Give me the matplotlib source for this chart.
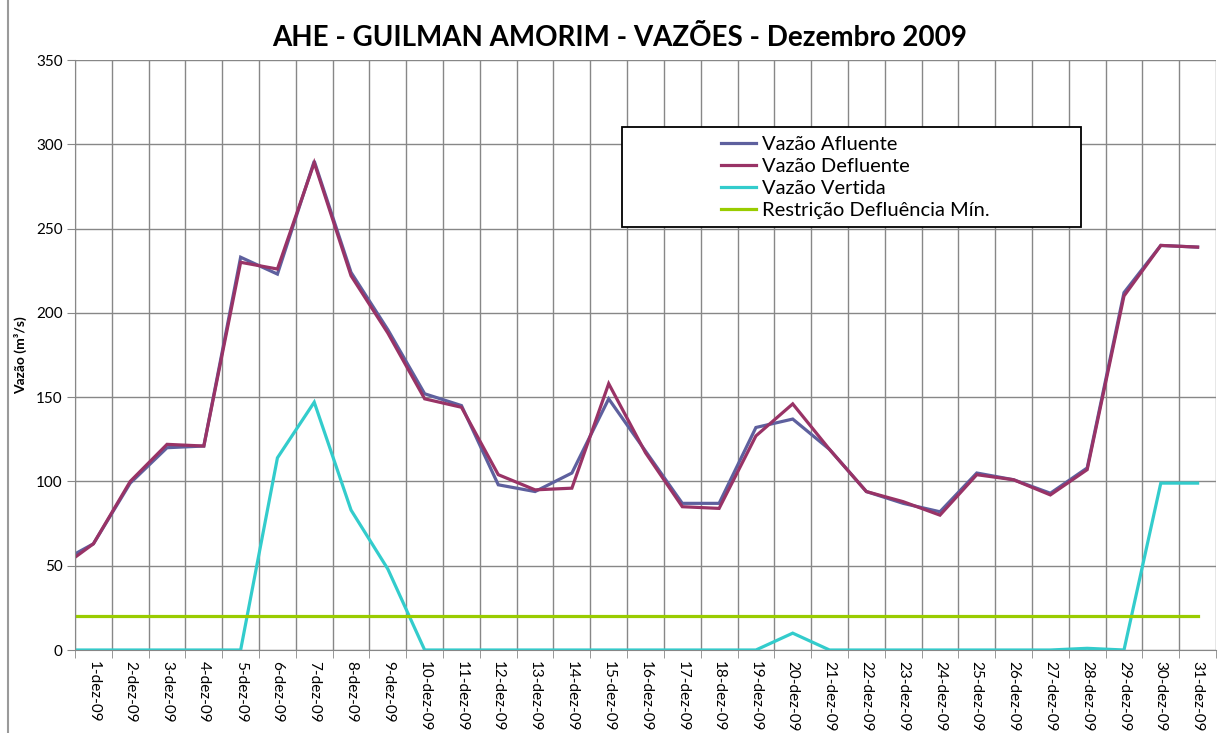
import matplotlib
matplotlib.use("Agg")
import matplotlib.pyplot as plt
from matplotlib.patches import Rectangle

plt.rcParams["font.family"] = ["Lato", "DejaVu Sans"]

# first value is the carry-over point drawn on the left axis edge
days = [f"{d}-dez-09" for d in range(1, 32)]
afluente = [57, 63, 99, 120, 121, 233, 223, 290, 224, 190, 152, 145, 98, 94, 105, 149,
            118, 87, 87, 132, 137, 119, 94, 87, 82, 105, 101, 93, 108, 212, 240, 239]
defluente = [55, 63, 100, 122, 121, 230, 226, 289, 222, 188, 149, 144, 104, 95, 96, 158,
             117, 85, 84, 127, 146, 119, 94, 88, 80, 104, 101, 92, 107, 210, 240, 239]
vertida = [0, 0, 0, 0, 0, 0, 114, 147, 83, 48, 0, 0, 0, 0, 0, 0,
           0, 0, 0, 0, 10, 0, 0, 0, 0, 0, 0, 0, 1, 0, 99, 99]
restricao = [20] * 32

xs = [0] + [i + 0.5 for i in range(len(days))]

fig = plt.figure(figsize=(12.31, 7.33), dpi=100)
ax = fig.add_axes([75 / 1231, 1 - 650 / 733, (1216 - 75) / 1231, 590 / 733])

grid_color = "#878787"
lw = 2.3
ax.plot(xs, afluente, color="#5E609E", lw=lw, label="Vazão Afluente", solid_joinstyle="miter")
ax.plot(xs, defluente, color="#993366", lw=lw, label="Vazão Defluente", solid_joinstyle="miter")
ax.plot(xs, vertida, color="#33CCCC", lw=lw, label="Vazão Vertida", solid_joinstyle="miter")
ax.plot(xs, restricao, color="#99CC00", lw=lw, label="Restrição Defluência Mín.")

ax.set_xlim(0, len(days))
ax.set_ylim(0, 350)
ax.set_yticks(range(0, 351, 50))
ax.set_xticks([i + 0.5 for i in range(len(days))])
ax.set_xticklabels(days, rotation=-90, fontsize=11)
ax.set_xticks(range(0, len(days) + 1), minor=True)
ax.tick_params(axis="x", which="major", length=0, pad=8)
ax.tick_params(axis="x", which="minor", length=6, color=grid_color, direction="out")
ax.tick_params(axis="y", length=6, color=grid_color, labelsize=11, pad=3)
ax.grid(True, axis="x", which="minor", color=grid_color, lw=1)
ax.grid(True, axis="y", which="major", color=grid_color, lw=1)
ax.set_axisbelow(True)
for side in ("top", "right"):
    ax.spines[side].set_visible(False)
for side in ("left", "bottom"):
    ax.spines[side].set_color(grid_color)

ax.set_ylabel("Vazão (m³/s)", fontsize=10, fontweight="bold", labelpad=6)
fig.text(620 / 1231, 1 - 38 / 733, "AHE - GUILMAN AMORIM - VAZÕES - Dezembro 2009",
         ha="center", va="center", fontsize=20, fontweight="bold")

# legend with a wide box like the original
fig.patches.append(Rectangle((622 / 1231, 1 - 227 / 733), (1081 - 622) / 1231, 100 / 733,
                             transform=fig.transFigure, facecolor="white",
                             edgecolor="black", lw=1.3, zorder=5))
leg = fig.legend(loc="upper left", bbox_to_anchor=(721 / 1231, 1 - 136 / 733),
                 frameon=False, fontsize=14.5, handlelength=1.75, handletextpad=0.3,
                 labelspacing=0.24, borderaxespad=0, borderpad=0)
leg.set_zorder(6)

# outer chart border
fig.patches.append(Rectangle((8 / 1231, -0.01), 1.2, 1.2, transform=fig.transFigure,
                             fill=False, edgecolor="#9a9a9a", lw=1.5))

fig.savefig("out.png", dpi=100)
